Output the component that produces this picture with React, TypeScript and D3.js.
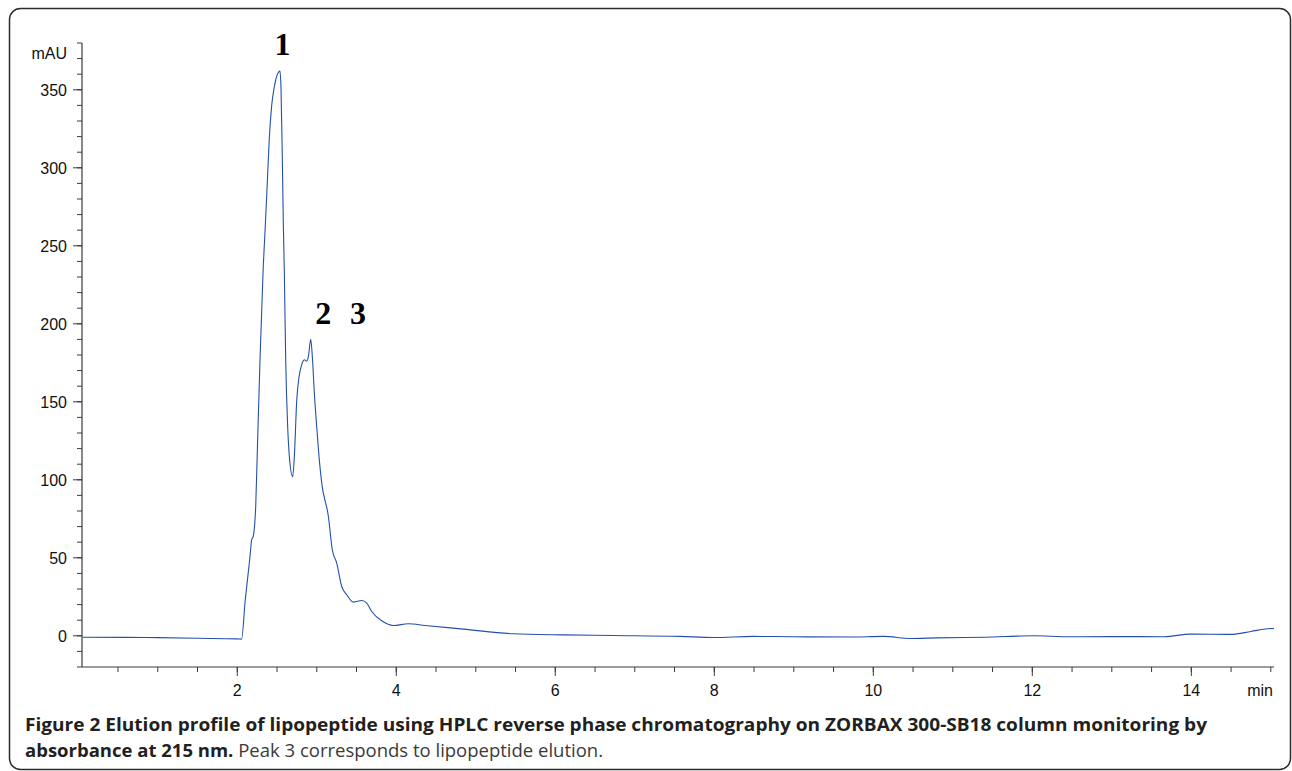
import React from "react";
import * as d3 from "d3";

// Retention time (min) and absorbance (mAU)
const timeMin: number[] = [
  0.05, 0.6, 1.0, 1.5, 2.0, 2.055, 2.097, 2.16, 2.181, 2.2, 2.232, 2.252, 2.286, 2.327, 2.349,
  2.378, 2.403, 2.433, 2.466, 2.537, 2.55, 2.566, 2.579, 2.592, 2.609, 2.634, 2.655, 2.697,
  2.718, 2.748, 2.777, 2.818, 2.843, 2.873, 2.894, 2.924, 2.944, 2.969, 2.999, 3.028, 3.062,
  3.146, 3.196, 3.251, 3.314, 3.377, 3.46, 3.566, 3.628, 3.691, 3.817, 3.964, 4.152, 4.362,
  4.845, 5.474, 6.1, 6.73, 7.57, 7.99, 8.49, 9.0, 9.71, 10.13, 10.47, 10.8, 11.4, 12.02, 12.44,
  13.0, 13.66, 13.99, 14.5, 14.75, 14.96, 15.04,
];
const absorbance: number[] = [
  -0.9, -1.0, -1.2, -1.6, -2.0, -2.1, 21, 50.8, 61.5, 63.6, 83, 118, 177, 237, 259,
  291, 319, 340, 352, 362, 351, 308, 265, 233, 177, 134, 115, 102,
  115, 151, 166, 175, 177, 176, 179, 190, 179, 156, 134, 115, 98,
  76.5, 55, 46.6, 31.6, 26.3, 21.6, 22.6, 21, 15.6, 9.6, 6.6, 7.7, 6.6,
  4.3, 1.3, 0.6, 0.2, -0.4, -1.1, -0.4, -0.6, -0.8, -0.4, -1.7, -1.3, -0.9, 0.0, -0.6,
  -0.5, -0.6, 1.1, 0.9, 2.8, 4.5, 4.7,
];

const yTickLabels: number[] = [0, 50, 100, 150, 200, 250, 300, 350];
const xTickLabels: number[] = [2, 4, 6, 8, 10, 12, 14];

const peakLabels: string[] = ["1", "2", "3"];
const peakTimes: number[] = [2.57, 3.08, 3.52];
const peakHeights: number[] = [372, 200, 200];

const captionBold1 =
  "Figure 2 Elution profile of lipopeptide using HPLC reverse phase chromatography on ZORBAX 300-SB18 column monitoring by";
const captionBold2 = "absorbance at 215 nm.";
const captionRegular2 = " Peak 3 corresponds to lipopeptide elution.";

export default function App() {
  const W = 1292;
  const H = 771;
  const left = 82;
  const right = 1274;
  const top = 43;
  const bottom = 667;

  const x = d3.scaleLinear().domain([0.047, 15.04]).range([left, right]);
  const y = d3.scaleLinear().domain([-20, 380]).range([bottom, top]);

  const pts: [number, number][] = timeMin.map((t, i) => [t, absorbance[i]]);
  const line = d3
    .line<[number, number]>()
    .x((d) => x(d[0]))
    .y((d) => y(d[1]))
    .curve(d3.curveMonotoneX);

  const yMinor = d3.range(-20, 381, 10);
  const xMinor = d3.range(0.5, 15.01, 0.5);
  const axisColor = "#3a3a3a";
  const axisFont = "'Liberation Sans', Arial, Helvetica, sans-serif";

  return (
    <svg
      width={W}
      height={H}
      style={{ position: "absolute", left: 0, top: 0, background: "#fff" }}
    >
      {/* frame */}
      <rect x={9.5} y={8.5} width={1281} height={761} rx={11} fill="none" stroke="#2b2b2b" strokeWidth={1.5} />

      {/* y axis */}
      <line x1={left} x2={left} y1={top} y2={bottom} stroke={axisColor} strokeWidth={1.2} />
      {yMinor.map((v) => (
        <line key={"ym" + v} x1={left - 5} x2={left} y1={y(v)} y2={y(v)} stroke={axisColor} strokeWidth={1} />
      ))}
      {yTickLabels.map((v) => (
        <g key={"yt" + v}>
          <line x1={left - 9} x2={left} y1={y(v)} y2={y(v)} stroke={axisColor} strokeWidth={1} />
          <text
            x={67}
            y={y(v)}
            dy="0.36em"
            textAnchor="end"
            fontFamily={axisFont}
            fontSize={16}
            fill="#111"
          >
            {v}
          </text>
        </g>
      ))}
      <text x={67} y={59} textAnchor="end" fontFamily={axisFont} fontSize={16} fill="#111">
        mAU
      </text>

      {/* x axis */}
      <line x1={left} x2={right} y1={bottom} y2={bottom} stroke={axisColor} strokeWidth={1.2} />
      {xMinor.map((v) => (
        <line key={"xm" + v} x1={x(v)} x2={x(v)} y1={bottom} y2={bottom + 5} stroke={axisColor} strokeWidth={1} />
      ))}
      {xTickLabels.map((v) => (
        <g key={"xt" + v}>
          <line x1={x(v)} x2={x(v)} y1={bottom} y2={bottom + 9} stroke={axisColor} strokeWidth={1} />
          <text
            x={x(v)}
            y={696}
            textAnchor="middle"
            fontFamily={axisFont}
            fontSize={16}
            fill="#111"
          >
            {v}
          </text>
        </g>
      ))}
      <text x={1273} y={696} textAnchor="end" fontFamily={axisFont} fontSize={16} fill="#111">
        min
      </text>

      {/* trace */}
      <path d={line(pts) || ""} fill="none" stroke="#2450ad" strokeWidth={1.1} strokeLinejoin="round" />

      {/* peak labels */}
      {peakLabels.map((lab, i) => (
        <text
          key={"pk" + lab}
          x={x(peakTimes[i])}
          y={y(peakHeights[i])}
          textAnchor="middle"
          fontFamily="'Liberation Serif', 'Times New Roman', serif"
          fontWeight="bold"
          fontSize={32}
          fill="#000"
        >
          {lab}
        </text>
      ))}

      {/* caption */}
      <text
        x={25}
        y={731}
        fontFamily="'Open Sans', sans-serif"
        fontSize={18.5}
        fontWeight="bold"
        fill="#231f20"
        textLength={1182}
        lengthAdjust="spacingAndGlyphs"
      >
        {captionBold1}
      </text>
      <text x={25} y={757} fontFamily="'Open Sans', sans-serif" fontSize={18.5} fill="#231f20">
        <tspan fontWeight="bold">{captionBold2}</tspan>
        <tspan fontWeight="normal" fill="#3a3a3a">{captionRegular2}</tspan>
      </text>
    </svg>
  );
}
